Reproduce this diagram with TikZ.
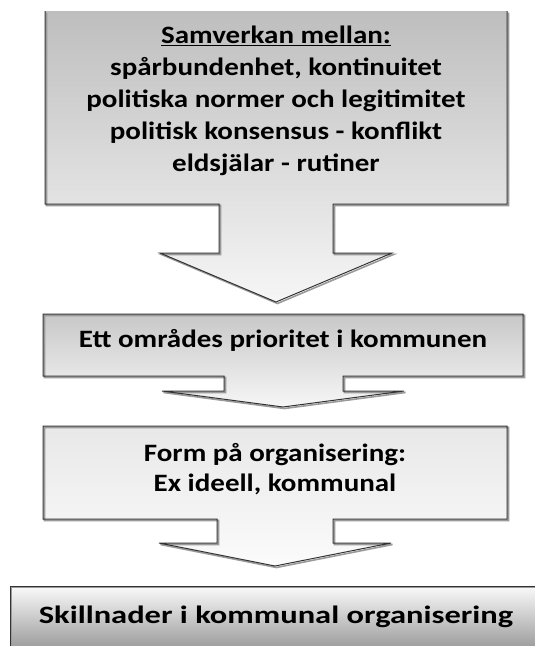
\documentclass[tikz,border=0pt]{standalone}
\usepackage{fontspec}
\setmainfont{Carlito}
\definecolor{edge}{HTML}{333333}
\definecolor{shadowc}{HTML}{9A9A9A}
\tikzset{
  boxtext/.style={align=center, inner sep=0pt, xscale=1.16, font=\bfseries\fontsize{25}{32}\selectfont},
  outline/.style={draw=edge, line width=1pt, line join=miter},
  shadowline/.style={draw=shadowc, line width=1.6pt, line join=miter},
}
\begin{document}
\begin{tikzpicture}[x=1pt,y=-1pt]
\useasboundingbox (0,0) rectangle (535,646);
\clip (0,0) rectangle (535,646);
% box 1 with arrow
\shade[top color={rgb,255:red,190;green,190;blue,190}, bottom color={rgb,255:red,246;green,246;blue,246}]
  (45,11) -- (45,204) -- (219,204) -- (219,253) -- (160,253) -- (276,302) -- (392,253) -- (333,253) -- (333,204) -- (507,204) -- (507,11) -- cycle;
\draw[shadowline,shift={(1.5,1.5)}]
  (45,11) -- (45,204) -- (219,204) -- (219,253) -- (160,253) -- (276,302) -- (392,253) -- (333,253) -- (333,204) -- (507,204) -- (507,11);
\draw[outline]
  (45,11) -- (45,204) -- (219,204) -- (219,253) -- (160,253) -- (276,302) -- (392,253) -- (333,253) -- (333,204) -- (507,204) -- (507,11);
% box 2 with arrow
\shade[top color={rgb,255:red,200;green,200;blue,200}, bottom color={rgb,255:red,246;green,246;blue,246}]
  (43,314) -- (43,376) -- (224,376) -- (224,391) -- (162,391) -- (283,407) -- (404,391) -- (343,391) -- (343,376) -- (523,376) -- (523,314) -- cycle;
\draw[shadowline,shift={(1.5,1.5)}]
  (43,314) -- (43,376) -- (224,376) -- (224,391) -- (162,391) -- (283,407) -- (404,391) -- (343,391) -- (343,376) -- (523,376) -- (523,314) -- cycle;
\draw[outline]
  (43,314) -- (43,376) -- (224,376) -- (224,391) -- (162,391) -- (283,407) -- (404,391) -- (343,391) -- (343,376) -- (523,376) -- (523,314) -- cycle;
% box 3 with arrow
\shade[top color={rgb,255:red,232;green,232;blue,232}, bottom color={rgb,255:red,251;green,251;blue,251}]
  (43,426) -- (43,519) -- (217,519) -- (217,543) -- (159,543) -- (275,566) -- (391,543) -- (333,543) -- (333,519) -- (507,519) -- (507,426) -- cycle;
\draw[shadowline,shift={(1.5,1.5)}]
  (43,426) -- (43,519) -- (217,519) -- (217,543) -- (159,543) -- (275,566) -- (391,543) -- (333,543) -- (333,519) -- (507,519) -- (507,426) -- cycle;
\draw[outline]
  (43,426) -- (43,519) -- (217,519) -- (217,543) -- (159,543) -- (275,566) -- (391,543) -- (333,543) -- (333,519) -- (507,519) -- (507,426) -- cycle;
% box 4
\shade[top color={rgb,255:red,250;green,250;blue,250}, bottom color={rgb,255:red,156;green,156;blue,156}]
  (10,586) rectangle (560,648);
\draw[shadowline,shift={(1.5,1.5)}] (10,586) rectangle (560,660);
\draw[outline] (10,586) rectangle (560,660);
% texts
\node[boxtext] (t1) at (276,101) {\underline{Samverkan mellan:}\\spårbundenhet, kontinuitet\\politiska normer och legitimitet\\politisk konsensus - konflikt\\eldsjälar - rutiner};
\node[boxtext, anchor=base] (t2) at (283,347) {Ett områdes prioritet i kommunen};
\node[boxtext, font=\bfseries\fontsize{25}{30}\selectfont] (t3) at (275,469) {Form på organisering:\\Ex ideell, kommunal};
\node[boxtext, anchor=base, xscale=1.3/1.16] (t4) at (276,623) {Skillnader i kommunal organisering};
\end{tikzpicture}
\end{document}
